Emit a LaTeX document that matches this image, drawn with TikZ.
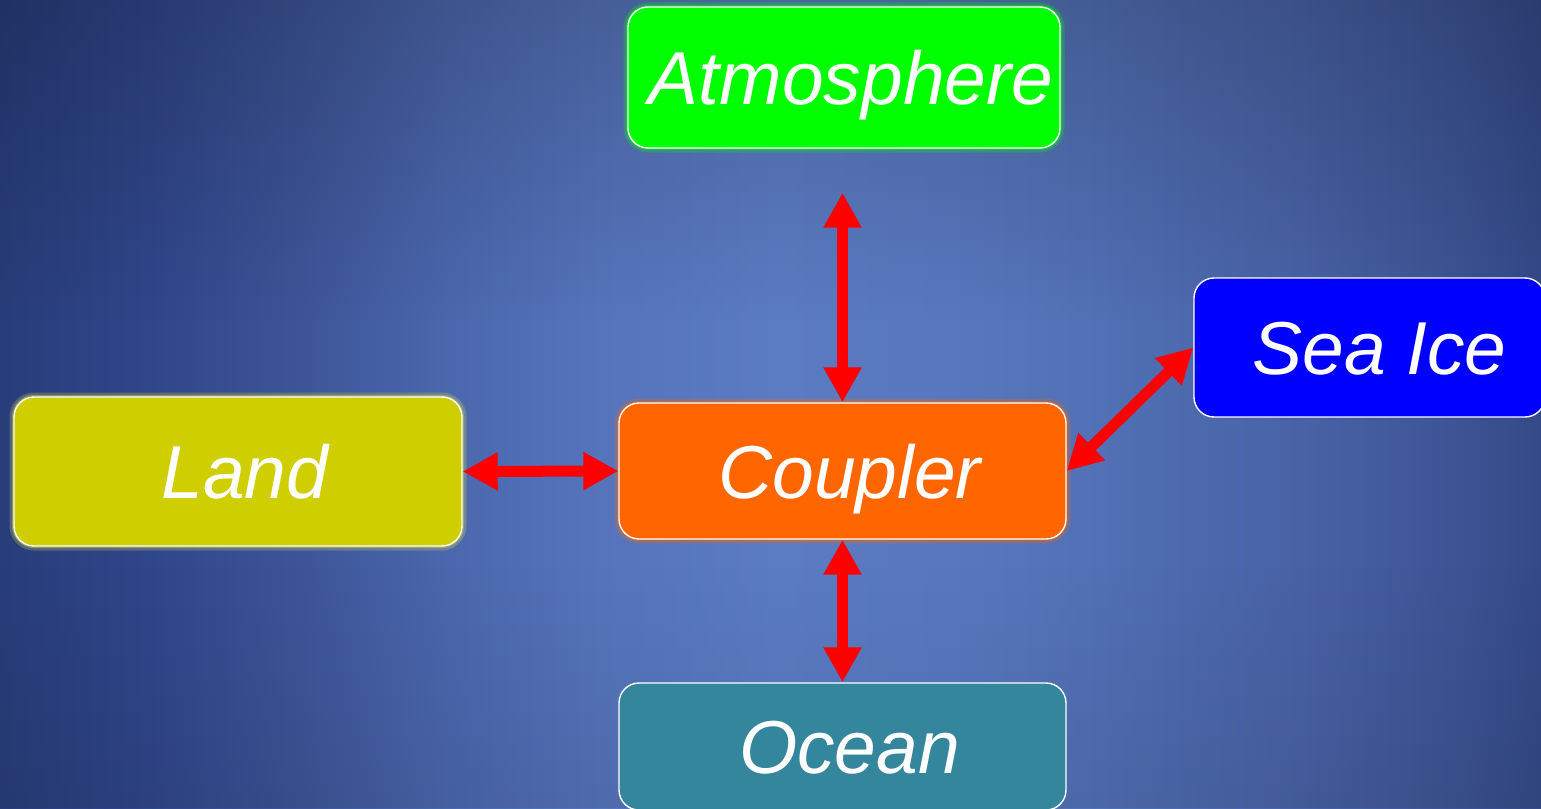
\documentclass[tikz,border=0pt]{standalone}
\usepackage{fontspec}
\setmainfont{Liberation Sans}
\usetikzlibrary{arrows.meta}

% backdrop colours, left to right
\definecolor{bga}{HTML}{283D7A}
\definecolor{bgb}{HTML}{30468A}
\definecolor{bgc}{HTML}{3D5598}
\definecolor{bgd}{HTML}{4B68AE}
\definecolor{bge}{HTML}{5574BB}
\definecolor{bgf}{HTML}{5B7BC3}
\definecolor{bgg}{HTML}{5877BE}
\definecolor{bgh}{HTML}{5170B5}
\definecolor{bgi}{HTML}{4862A5}
\definecolor{bgj}{HTML}{3D5595}
\definecolor{bgk}{HTML}{344A88}

\definecolor{atmgreen}{HTML}{00FF00}
\definecolor{landyellow}{HTML}{CECE00}
\definecolor{coupleorange}{HTML}{FF6600}
\definecolor{iceblue}{HTML}{0000FF}
\definecolor{oceanteal}{HTML}{33869B}
\definecolor{linkred}{HTML}{FF0000}

% horizontal backdrop, 20pt of overhang on each side
\pgfdeclarehorizontalshading{backdrop}{850pt}{%
  color(0pt)=(bga); color(20pt)=(bga); color(170pt)=(bgb); color(320pt)=(bgc);
  color(470pt)=(bgd); color(620pt)=(bge); color(800pt)=(bgf); color(970pt)=(bgg);
  color(1120pt)=(bgh); color(1320pt)=(bgi); color(1470pt)=(bgj); color(1561pt)=(bgk);
  color(1581pt)=(bgk)}

\tikzset{
  component/.style={rectangle, rounded corners=20pt, draw=white, line width=1.4pt,
    text=white, font=\fontsize{75}{80}\selectfont\itshape, inner sep=0pt,
    text height=70pt, text depth=16pt},
  glow/.style={preaction={draw=#1, line width=9pt, opacity=0.25},
               preaction={draw=#1, line width=4pt, opacity=0.4}},
  link/.style={draw=linkred, line width=11pt,
    {Triangle[length=35pt,width=36pt]}-{Triangle[length=35pt,width=36pt]}}
}

\begin{document}
\begin{tikzpicture}[x=1pt, y=-1pt]
  \useasboundingbox (0,0) rectangle (1541,808);
  \clip (0,0) rectangle (1541,808);
  \node[inner sep=0pt, outer sep=0pt] (backdrop) at (770.5,404) {\pgfuseshading{backdrop}};
  % gentle darkening towards the top and bottom edges
  \foreach \i in {0,...,39} {
    \fill[black, opacity={0.0045*(40-\i)}] (0,{\i*8}) rectangle (1541,{\i*8+8});
  }
  \foreach \i in {0,...,29} {
    \fill[black, opacity={0.0025*(\i+1)}] (0,{568+\i*8}) rectangle (1541,{576+\i*8});
  }

  \node[component, glow=atmgreen, fill=atmgreen, minimum width=432pt, minimum height=141pt]
    (atm) at (844,77.5) {\hspace*{14pt}Atmosphere};
  \node[component, glow=landyellow!70!white, fill=landyellow, minimum width=448pt, minimum height=149pt]
    (land) at (238,471.5) {\hspace*{14pt}Land};
  \node[component, glow=coupleorange, fill=coupleorange, minimum width=447pt, minimum height=136pt]
    (coupler) at (842.5,471) {\hspace*{14pt}Coupler};
  \node[component, fill=iceblue, minimum width=351pt, minimum height=139pt]
    (ice) at (1369.5,347.5) {\hspace*{20pt}Sea Ice};
  \node[component, fill=oceanteal, minimum width=447pt, minimum height=127pt]
    (ocean) at (842.5,746.5) {\hspace*{14pt}Ocean};

  \draw[link, shorten >=44pt] (coupler.north) -- (coupler.north |- atm.south);
  \draw[link] (land.east) -- (coupler.west);
  \draw[link] (coupler.south) -- (ocean.north);
  \draw[link] (coupler.east) -- (ice.west);
\end{tikzpicture}
\end{document}
